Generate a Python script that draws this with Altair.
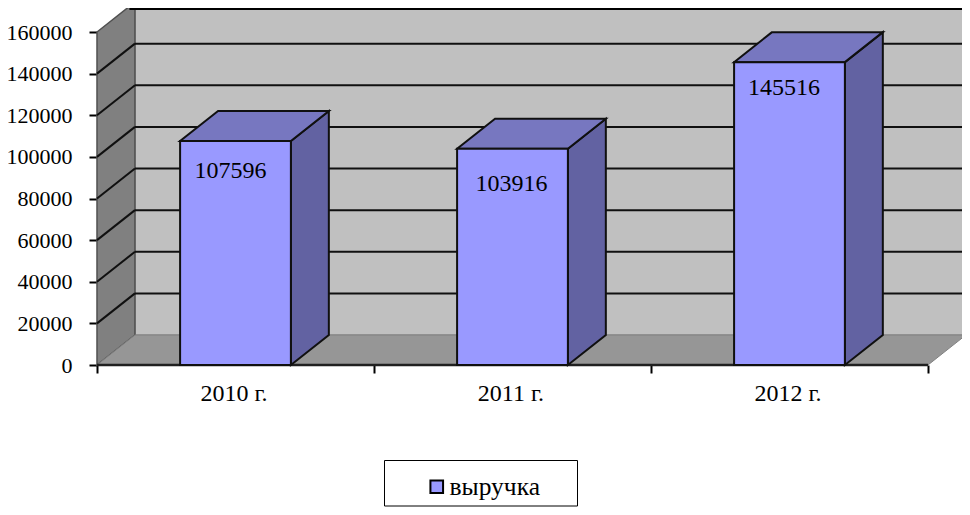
import altair as alt
import pandas as pd

# ---- chart values
categories = ["2010 г.", "2011 г.", "2012 г."]
revenue = [107596, 103916, 145516]
series_name = "выручка"
y_ticks = [0, 20000, 40000, 60000, 80000, 100000, 120000, 140000, 160000]

# ---- 3-D box geometry, in data units (x: 1 = one category, y: revenue)
DX = 0.137
DY = 14414
BAR = 0.40
X_DOM = [-0.3213, 3.1228]
Y_DOM = [-68228, 171532]
W, H = 954, 499
FONT = "Liberation Serif"
x_scale = alt.Scale(domain=X_DOM, nice=False, zero=False)
y_scale = alt.Scale(domain=Y_DOM, nice=False, zero=False)
YMAX = y_ticks[-1]

# x axis: ticks on category boundaries, labels at category centres
x_axis = alt.Axis(
    title=None, domain=False, grid=False, offset=-142,
    values=[0, 0.5, 1, 1.5, 2, 2.5, 3],
    tickOpacity={"condition": {"test": "datum.value % 1 == 0", "value": 1}, "value": 0},
    tickColor="black", tickWidth=2, tickSize=8,
    labelExpr="datum.value % 1 ? " + str(categories) + "[floor(datum.value)] : ''",
    labelFont=FONT, labelFontSize=24, labelColor="black", labelPadding=8, labelOffset=-2,
    labelOverlap=False, labelFlush=False,
)
y_axis = alt.Axis(
    title=None, domain=False, grid=False, offset=-89, values=y_ticks,
    tickColor="black", tickWidth=2, tickSize=8, format="d",
    labelFont=FONT, labelFontSize=22, labelColor="black", labelPadding=17,
    labelOverlap=False, labelFlush=False,
)
X = lambda f: alt.X(f, type="quantitative", scale=x_scale, axis=x_axis)
Y = lambda f: alt.Y(f, type="quantitative", scale=y_scale, axis=y_axis)

# walls -------------------------------------------------------------
back = alt.Chart(pd.DataFrame([{"x": DX, "x2": 3 + DX, "y": DY, "y2": YMAX + DY}])).mark_rect(
    fill="#C0C0C0", stroke="#A0A0A0", strokeWidth=2
).encode(x=X("x"), x2="x2", y=Y("y"), y2="y2")

left = alt.Chart(pd.DataFrame([
    {"x": 0, "y": 0, "y2": YMAX}, {"x": DX, "y": DY, "y2": YMAX + DY}
])).mark_area(fill="#808080", stroke="#505050", strokeWidth=1.5).encode(x=X("x"), y=Y("y"), y2="y2")

floor_ = alt.Chart(pd.DataFrame([
    {"y": 0, "x": 0, "x2": 3}, {"y": DY, "x": DX, "x2": 3 + DX}
])).mark_area(fill="#969696", stroke="#808080", strokeWidth=1, orient="horizontal").encode(
    x=X("x"), x2="x2", y=Y("y"))

# grid lines on left and back walls ---------------------------------
grid_vals = y_ticks[1:-1]
grid_back = alt.Chart(pd.DataFrame({"y": [v + DY for v in grid_vals], "x": DX, "x2": 3 + DX})).mark_rule(
    color="#101010", strokeWidth=2).encode(x=X("x"), x2="x2", y=Y("y"))
grid_left = alt.Chart(pd.DataFrame(
    [{"g": v, "x": 0, "y": v} for v in grid_vals] + [{"g": v, "x": DX, "y": v + DY} for v in grid_vals]
)).mark_line(color="#101010", strokeWidth=2).encode(x=X("x"), y=Y("y"), detail="g:N")
top_edge = alt.Chart(pd.DataFrame({"y": [Y_DOM[1] - 500], "x": [DX - 0.02], "x2": [3 + DX]})).mark_rule(
    color="black", strokeWidth=2).encode(x=X("x"), x2="x2", y=Y("y"))

# front edge of the floor -------------------------------------------
axes = alt.Chart(pd.DataFrame({"x": [0.0], "x2": [3.0], "y": [0]})).mark_rule(
    color="#202020", strokeWidth=2.5
).encode(x=X("x"), x2="x2", y=Y("y"))

# bars --------------------------------------------------------------
centres = [i + 0.5 for i in range(len(categories))]
# hand-placed value labels, as in the source chart (in data units from bar centre / bar top)
label_shift_x = [-0.018, -0.004, -0.020]
label_shift_y = [-14400, -16800, -12500]
front_df = pd.DataFrame({
    "x": [c - BAR / 2 for c in centres], "x2": [c + BAR / 2 for c in centres],
    "y": [0] * 3, "y2": revenue, "series": [series_name] * 3, "label": [str(v) for v in revenue],
    "lx": [c + s for c, s in zip(centres, label_shift_x)],
    "ly": [v + s for v, s in zip(revenue, label_shift_y)],
})
side_rows, top_rows = [], []
for i, (c, v) in enumerate(zip(centres, revenue)):
    r = c + BAR / 2
    l = c - BAR / 2
    side_rows += [{"b": i, "x": r, "y": v, "y2": 0}, {"b": i, "x": r + DX, "y": v + DY, "y2": DY}]
    top_rows += [{"b": i, "y": v, "x": l, "x2": r}, {"b": i, "y": v + DY, "x": l + DX, "x2": r + DX}]

side = alt.Chart(pd.DataFrame(side_rows)).mark_area(
    fill="#6262A2", stroke="#101010", strokeWidth=2, strokeJoin="miter"
).encode(x=X("x"), y=Y("y"), y2="y2", detail="b:N")
top = alt.Chart(pd.DataFrame(top_rows)).mark_area(
    fill="#7777C0", stroke="#101010", strokeWidth=2, orient="horizontal", strokeJoin="miter"
).encode(x=X("x"), x2="x2", y=Y("y"), detail="b:N")
front = alt.Chart(front_df).mark_rect(stroke="#101010", strokeWidth=2).encode(
    x=X("x"), x2="x2", y=Y("y"), y2="y2",
    color=alt.Color("series:N", scale=alt.Scale(domain=[series_name], range=["#9999FF"]),
                    legend=alt.Legend(
                        title=None, orient="none", legendX=416, legendY=466,
                        symbolType="square", symbolSize=160, symbolStrokeColor="black",
                        symbolStrokeWidth=2, labelFont=FONT, labelFontSize=25.5, labelColor="black",
                        labelOffset=0, symbolOpacity=1, padding=0)),
)

labels = alt.Chart(front_df).mark_text(
    font=FONT, fontSize=24, color="black", baseline="middle", align="center"
).encode(x=X("lx"), y=Y("ly"), text="label:N")

# legend frame
frame = alt.Chart(pd.DataFrame({"a": [0]})).mark_rect(
    fill="white", stroke="black", strokeWidth=1
).encode(x=alt.value(376.5), x2=alt.value(569.5), y=alt.value(452.5), y2=alt.value(498))

chart = alt.layer(
    back, left, grid_back, grid_left, top_edge, floor_, axes, side, top, front, labels, frame
).properties(
    width=W, height=H, padding=0, autosize=alt.AutoSizeParams(type="none"), background="white"
).configure_view(stroke=None)

chart.save("out.html", embed_options={"renderer": "svg", "actions": False})
